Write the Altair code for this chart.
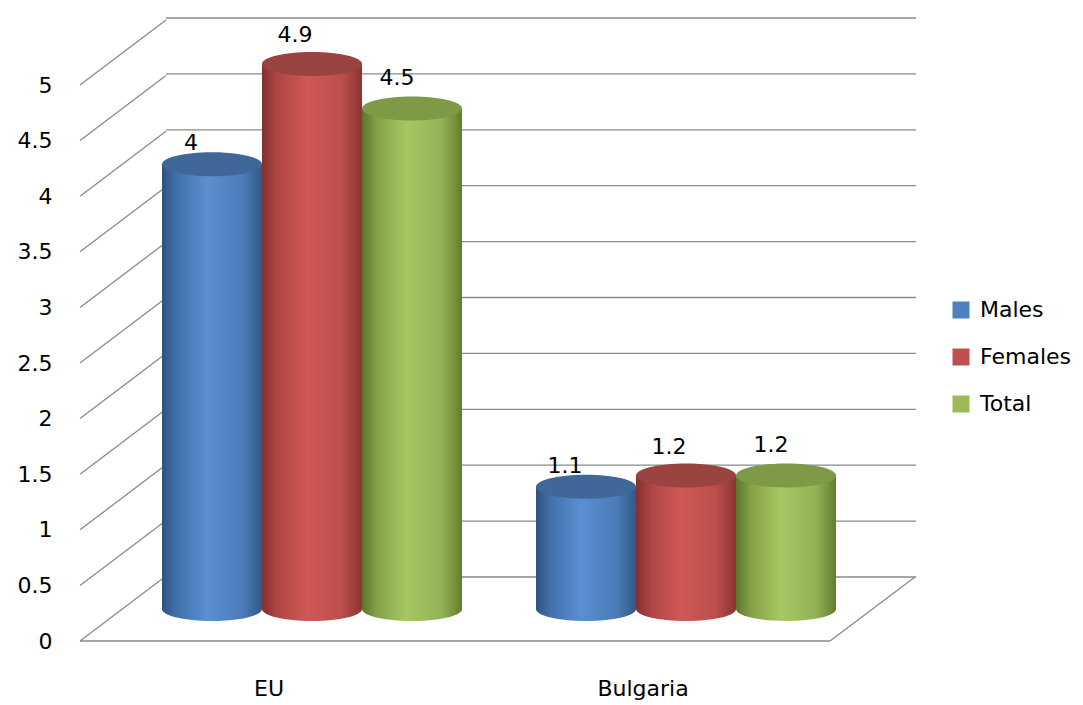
import altair as alt
import pandas as pd

# ---- data ----
categories = ["EU", "Bulgaria"]
series = ["Males", "Females", "Total"]
males = [4.0, 1.1]
females = [4.9, 1.2]
total = [4.5, 1.2]
ticks = [0, 0.5, 1, 1.5, 2, 2.5, 3, 3.5, 4, 4.5, 5]
flat_colors = ["#4F81BD", "#C0504D", "#9BBB59"]

rows = []
for i, c in enumerate(categories):
    for s, vals in zip(series, [males, females, total]):
        rows.append({"category": c, "series": s, "value": vals[i],
                     "label": f"{vals[i]:g}", "zero": 0})
df = pd.DataFrame(rows)
tick_df = pd.DataFrame({"v": ticks})
zero_df = pd.DataFrame({"v": [0]})
cat_df = pd.DataFrame({"category": categories, "v": [0, 0]})

FONT = "DejaVu Sans"
FS = 22
GRID = "#8A8A8A"

W, H = 748, 556


def grad(stops):
    return {"gradient": "linear", "x1": 0, "x2": 1, "y1": 0, "y2": 0,
            "stops": [{"offset": o, "color": c} for o, c in stops]}


body_grads = {
    "Males": grad([(0, "#2E5282"), (0.15, "#4272AC"), (0.45, "#5B8ED2"),
                   (0.8, "#4C7CB8"), (1, "#31588A")]),
    "Females": grad([(0, "#84302E"), (0.15, "#AE4644"), (0.45, "#D05856"),
                     (0.8, "#BC4E4C"), (1, "#8A3432")]),
    "Total": grad([(0, "#5A762A"), (0.15, "#84A246"), (0.45, "#A7C764"),
                   (0.8, "#93B255"), (1, "#617D2E")]),
}
top_colors = {"Males": "#3F6899", "Females": "#9A4442", "Total": "#7E9A46"}
label_dy = {"Males": -21, "Females": -29, "Total": -31}
label_dx = {"Males": -21, "Females": -17, "Total": -15}

ELLIPSE = "M -1 0 A 1 0.24 0 1 1 1 0 A 1 0.24 0 1 1 -1 0 Z"

front_y = alt.Scale(domain=[0, 5], range=[H, 0], nice=False, zero=False)
back_y = alt.Scale(domain=[0, 5], range=[492, -67], nice=False, zero=False)
cyl_y = alt.Scale(domain=[0, 5], range=[H - 32, -32], nice=False, zero=False)
cyl_x = alt.X("category:N", sort=categories,
              scale=alt.Scale(type="band", domain=categories, range=[43, W + 43],
                              paddingInner=0, paddingOuter=0), axis=None)
cyl_xo = alt.XOffset("series:N", sort=series,
                     scale=alt.Scale(domain=series, paddingInner=0, paddingOuter=0.37))

layers = []

# axis layer (front)
layers.append(
    alt.Chart(cat_df).mark_point(opacity=0).encode(
        x=alt.X("category:N", sort=categories,
                scale=alt.Scale(type="band", domain=categories, paddingInner=0, paddingOuter=0),
                axis=alt.Axis(title=None, labelAngle=0, domain=False, ticks=False, grid=False,
                              labelFontSize=FS, labelFont=FONT, labelColor="black",
                              labelPadding=37)),
        y=alt.Y("v:Q", scale=front_y,
                axis=alt.Axis(values=ticks, format="~g", title=None, domain=False, ticks=False,
                              grid=False, labelFontSize=FS, labelFont=FONT, labelColor="black",
                              labelPadding=30)),
    )
)

# back wall gridlines
layers.append(
    alt.Chart(tick_df).mark_rule(color=GRID, strokeWidth=1.3).encode(
        x=alt.value(84), x2=alt.value(834),
        y=alt.Y("v:Q", scale=back_y, axis=None),
    )
)
# left diagonals
layers.append(
    alt.Chart(tick_df).mark_rule(color=GRID, strokeWidth=1.3, y2Offset=-65).encode(
        x=alt.value(-2), x2=alt.value(84),
        y=alt.Y("v:Q", scale=front_y, axis=None), y2="v:Q",
    )
)
# floor front edge
layers.append(
    alt.Chart(zero_df).mark_rule(color=GRID, strokeWidth=1.3).encode(
        x=alt.value(-2), x2=alt.value(W),
        y=alt.Y("v:Q", scale=front_y, axis=None),
    )
)
# floor right edge
layers.append(
    alt.Chart(zero_df).mark_rule(color=GRID, strokeWidth=1.3, y2Offset=-64).encode(
        x=alt.value(W), x2=alt.value(W + 85),
        y=alt.Y("v:Q", scale=front_y, axis=None), y2="v:Q",
    )
)

# cylinders
for s in series:
    base = alt.Chart(df).transform_filter(alt.datum.series == s)
    layers.append(
        base.mark_point(shape=ELLIPSE, size=10000, filled=True, fill=body_grads[s],
                        opacity=1, strokeOpacity=0).encode(
            x=cyl_x, xOffset=cyl_xo, y=alt.Y("zero:Q", scale=cyl_y, axis=None))
    )
    layers.append(
        base.mark_bar(fill=body_grads[s], strokeOpacity=0).encode(
            x=cyl_x, xOffset=cyl_xo, y=alt.Y("value:Q", scale=cyl_y, axis=None, stack=None))
    )
    layers.append(
        base.mark_point(shape=ELLIPSE, size=10000, filled=True, fill=top_colors[s],
                        opacity=1, strokeOpacity=0).encode(
            x=cyl_x, xOffset=cyl_xo, y=alt.Y("value:Q", scale=cyl_y, axis=None))
    )

for s in series:
    base = alt.Chart(df).transform_filter(alt.datum.series == s)
    layers.append(
        base.mark_text(dx=label_dx[s], dy=label_dy[s], fontSize=FS, font=FONT,
                       color="black").encode(
            x=cyl_x, xOffset=cyl_xo, y=alt.Y("value:Q", scale=cyl_y, axis=None),
            text="label:N")
    )

# legend carrier
layers.append(
    alt.Chart(df).mark_square(opacity=0).encode(
        color=alt.Color("series:N", sort=series,
                        scale=alt.Scale(domain=series, range=flat_colors),
                        legend=alt.Legend(title=None, orient="none", legendX=868, legendY=214,
                                          symbolType="square", symbolSize=289, symbolOpacity=1,
                                          symbolStrokeWidth=0, labelFontSize=FS, labelFont=FONT,
                                          labelColor="black", rowPadding=25, labelOffset=8,
                                          padding=0)),
    )
)

chart = alt.layer(*layers).resolve_scale(x="independent", y="independent").properties(
    width=W, height=H,
    padding={"left": 82, "top": 85, "right": 253, "bottom": 64},
    autosize=alt.AutoSizeParams(type="none"),
    background="white",
).configure_view(strokeWidth=0)

chart.save("out.html", embed_options={"renderer": "svg", "actions": False})
